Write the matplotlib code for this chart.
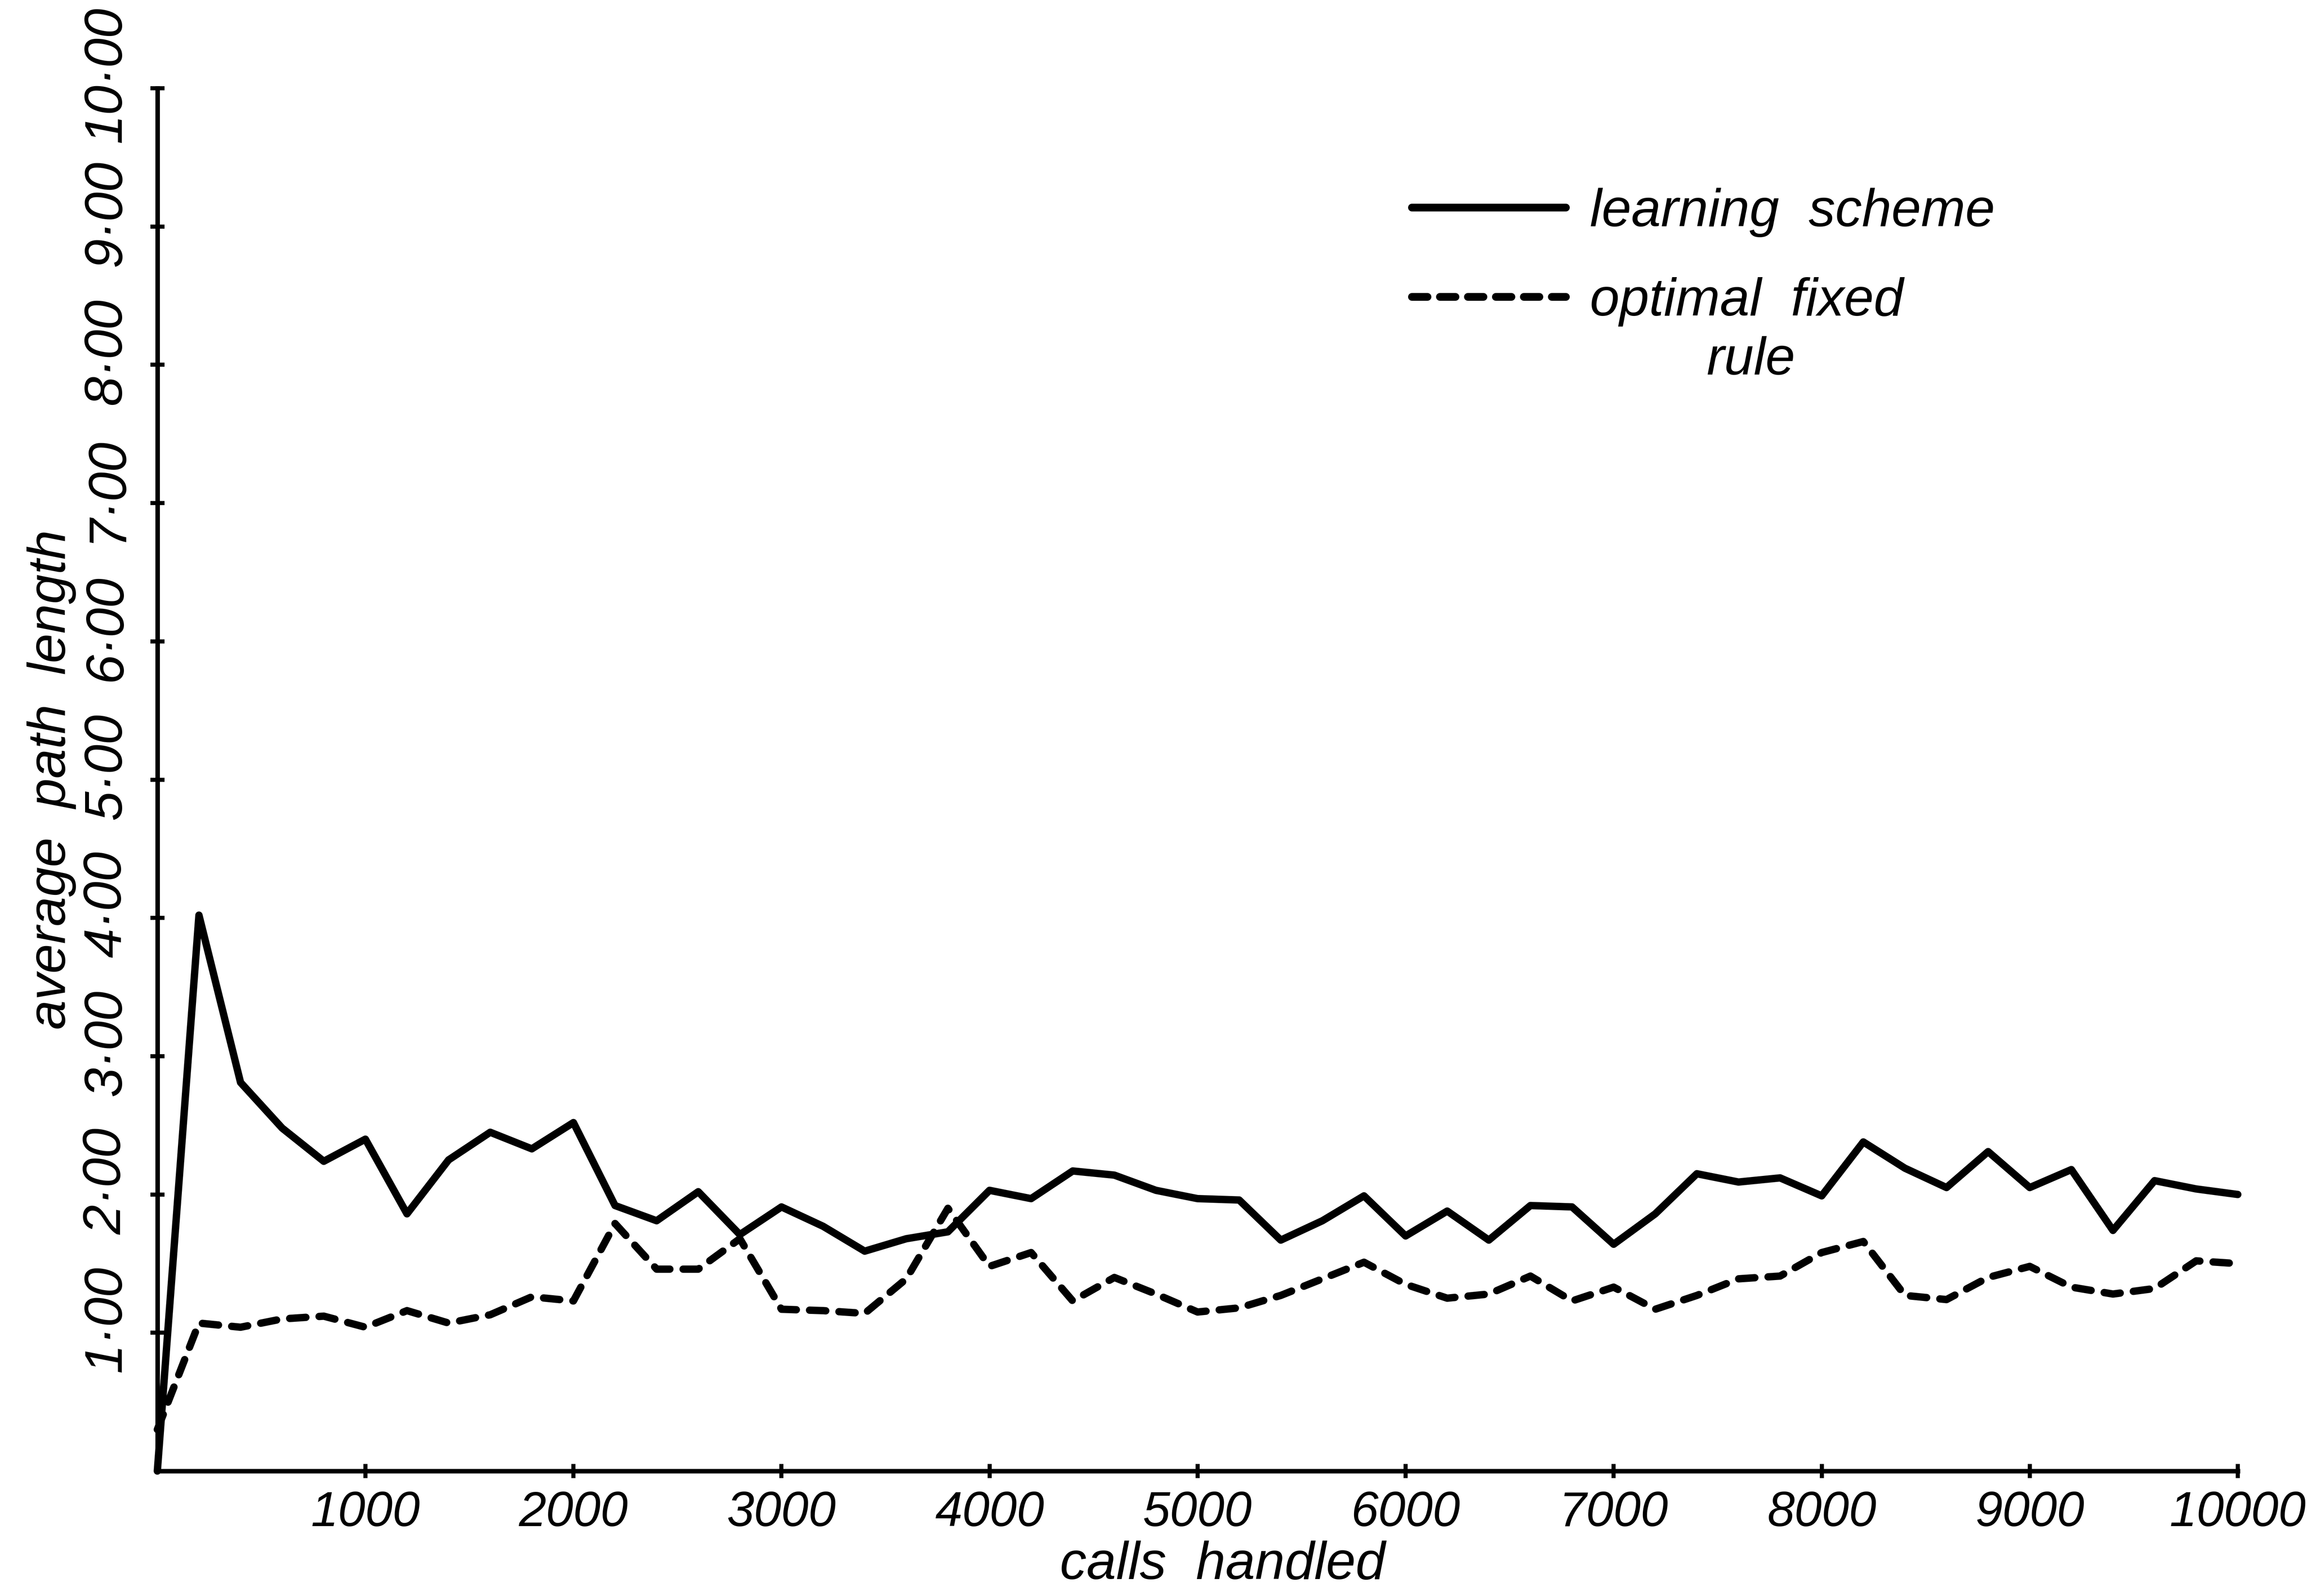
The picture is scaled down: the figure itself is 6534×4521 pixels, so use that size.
import matplotlib
matplotlib.use("Agg")
import matplotlib.pyplot as plt
from matplotlib.lines import Line2D
from matplotlib.transforms import ScaledTranslation

# calls handled (sampled every 200 calls)
calls = list(range(0, 10001, 200))

learning_scheme = [
    0.00, 4.02, 2.81, 2.48, 2.24, 2.40, 1.86, 2.25, 2.45, 2.33,
    2.52, 1.92, 1.81, 2.02, 1.71, 1.91, 1.77, 1.59, 1.68, 1.73,
    2.03, 1.97, 2.17, 2.14, 2.03, 1.97, 1.96, 1.67, 1.81, 1.99,
    1.70, 1.88, 1.67, 1.92, 1.91, 1.64, 1.86, 2.15, 2.09, 2.12,
    1.99, 2.38, 2.19, 2.05, 2.31, 2.05, 2.18, 1.74, 2.10, 2.04,
    2.00,
]

optimal_fixed_rule = [
    0.30, 1.07, 1.04, 1.10, 1.12, 1.04, 1.16, 1.07, 1.13, 1.26,
    1.23, 1.79, 1.46, 1.46, 1.68, 1.17, 1.16, 1.14, 1.39, 1.90,
    1.48, 1.58, 1.23, 1.40, 1.28, 1.15, 1.18, 1.27, 1.39, 1.51,
    1.35, 1.25, 1.28, 1.41, 1.23, 1.33, 1.17, 1.27, 1.39, 1.41,
    1.58, 1.66, 1.27, 1.24, 1.40, 1.48, 1.33, 1.28, 1.32, 1.52,
    1.50,
]

x_ticks = [1000, 2000, 3000, 4000, 5000, 6000, 7000, 8000, 9000, 10000]
x_tick_labels = ["1000", "2000", "3000", "4000", "5000",
                 "6000", "7000", "8000", "9000", "10000"]
y_ticks = [1, 2, 3, 4, 5, 6, 7, 8, 9, 10]
y_tick_labels = ["1·00", "2·00", "3·00", "4·00", "5·00",
                 "6·00", "7·00", "8·00", "9·00", "10·00"]

FONT = ["Liberation Sans", "DejaVu Sans"]
FS = 26
TXT = dict(fontsize=FS, fontstyle="italic", family=FONT)

DPI = 417
fig = plt.figure(figsize=(6534 / DPI, 4521 / DPI), dpi=DPI, facecolor="white")
ax = fig.add_axes([0.0682, 0.0783, 0.9018, 0.8664])

ax.plot(calls, learning_scheme, color="black", linewidth=3.6,
        solid_joinstyle="round", solid_capstyle="round", clip_on=False,
        label="learning scheme")
ax.plot(calls, optimal_fixed_rule, color="black", linewidth=3.6,
        linestyle=(0, (2.2, 1.8)), dash_capstyle="round", clip_on=False,
        label="optimal fixed")

ax.set_xlim(0, 10000)
ax.set_ylim(0, 10)

for side in ("top", "right"):
    ax.spines[side].set_visible(False)
for side in ("left", "bottom"):
    ax.spines[side].set_linewidth(2.2)

ax.set_xticks(x_ticks)
ax.set_xticklabels(x_tick_labels, fontsize=24, fontstyle="italic", family=FONT)
ax.set_yticks(y_ticks)
ax.set_yticklabels(y_tick_labels, rotation=90, va="center", ha="right", **TXT)
ax.tick_params(axis="x", direction="inout", length=7, width=2, pad=6)
ax.tick_params(axis="y", direction="inout", length=7, width=2, pad=9)

# tick labels on the value axis sit slightly above their ticks
lift = ScaledTranslation(0, 0.09, fig.dpi_scale_trans)
for lab in ax.get_yticklabels():
    lab.set_transform(lab.get_transform() + lift)

ax.set_xlabel("calls  handled", labelpad=2, x=0.512, **TXT)
ax.set_ylabel("average  path  length", **TXT)
ax.yaxis.set_label_coords(-0.039, 0.50)

handles = [
    Line2D([], [], color="black", linewidth=3.8, solid_capstyle="round"),
    Line2D([], [], color="black", linewidth=3.8, linestyle=(0, (2.0, 1.6)),
           dash_capstyle="round"),
]
leg = ax.legend(handles, ["learning  scheme", "optimal  fixed"],
                loc="upper left", bbox_to_anchor=(0.603, 0.928),
                frameon=False, handlelength=2.9,
                handletextpad=0.45, labelspacing=0.75, borderpad=0,
                borderaxespad=0,
                prop={"family": FONT, "style": "italic", "size": FS})
ax.text(0.766, 0.803, "rule", transform=ax.transAxes, ha="center",
        va="center", **TXT)

fig.savefig("out.png", dpi=DPI, facecolor="white")
